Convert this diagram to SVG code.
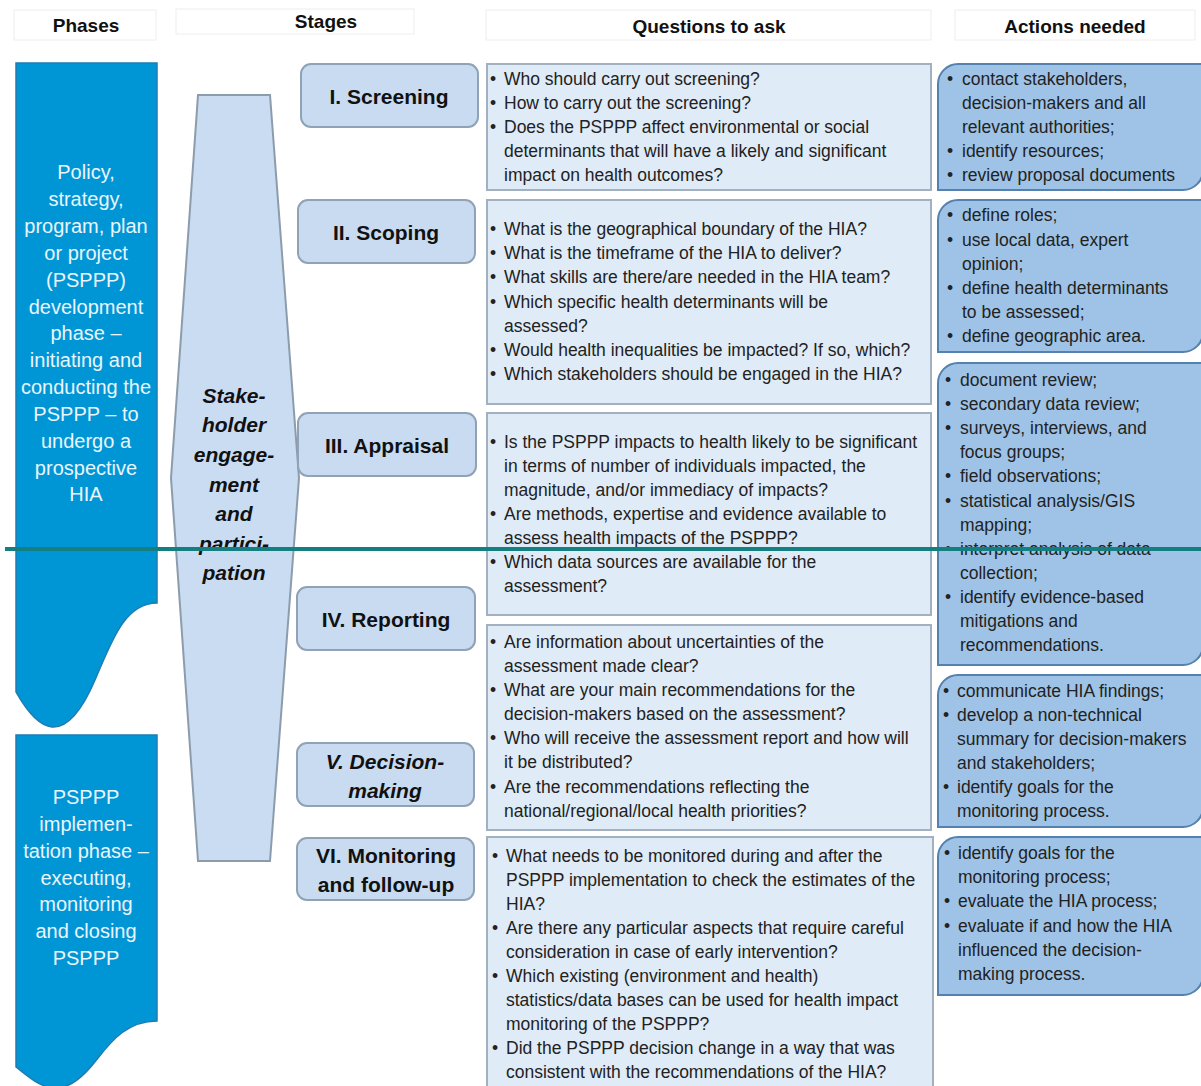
<svg xmlns="http://www.w3.org/2000/svg" width="1201" height="1086" viewBox="0 0 1201 1086">
<style>
.hdrbox{fill:#ffffff;stroke:#eeeeee;stroke-width:1}
.hdr{font-family:"Liberation Sans",Arial,sans-serif;font-weight:bold;font-size:19px;fill:#111;text-anchor:middle;dominant-baseline:central}
.phase{fill:#0096D6;stroke:#1C7DB3;stroke-width:1.5}
.ptxt{font-family:"Liberation Sans",Arial,sans-serif;font-size:20px;fill:#EAF5FC;text-anchor:middle;dominant-baseline:central}
.hex{fill:#C9DCF1;stroke:#8D9CAD;stroke-width:2}
.htxt{font-family:"Liberation Sans",Arial,sans-serif;font-size:21px;font-weight:bold;font-style:italic;fill:#111;text-anchor:middle;dominant-baseline:central}
.stage{fill:#C8DBF1;stroke:#8FA2B6;stroke-width:2}
.stxt{font-family:"Liberation Sans",Arial,sans-serif;font-size:21px;font-weight:bold;fill:#111;text-anchor:middle;dominant-baseline:central}
.q{fill:#DFEBF7;stroke:#A3B0BF;stroke-width:2}
.a{fill:#9EC3E6;stroke:#5581AE;stroke-width:2}
.t{font-family:"Liberation Sans",Arial,sans-serif;font-size:17.5px;fill:#222;dominant-baseline:central}
</style>

<g id="headers">
<rect class="hdrbox" x="14" y="10" width="142" height="30"/>
<text class="hdr" x="86" y="25">Phases</text>
<rect class="hdrbox" x="176" y="9" width="238" height="25"/>
<text class="hdr" x="326" y="21">Stages</text>
<rect class="hdrbox" x="486" y="10" width="445" height="30"/>
<text class="hdr" x="709" y="26">Questions to ask</text>
<rect class="hdrbox" x="955" y="10" width="240" height="30"/>
<text class="hdr" x="1075" y="26">Actions needed</text>
</g>

<g id="phase1">
<path class="phase" d="M16,63 H157 V603 C125,603 112,640 95,680 C80,715 65,728 52,727 C38,726 25,708 16,692 Z"/>
<text class="ptxt" x="86" y="172">Policy,</text>
<text class="ptxt" x="86" y="199">strategy,</text>
<text class="ptxt" x="86" y="226">program, plan</text>
<text class="ptxt" x="86" y="253">or project</text>
<text class="ptxt" x="86" y="280">(PSPPP)</text>
<text class="ptxt" x="86" y="307">development</text>
<text class="ptxt" x="86" y="333">phase –</text>
<text class="ptxt" x="86" y="360">initiating and</text>
<text class="ptxt" x="86" y="387">conducting the</text>
<text class="ptxt" x="86" y="414">PSPPP – to</text>
<text class="ptxt" x="86" y="441">undergo a</text>
<text class="ptxt" x="86" y="468">prospective</text>
<text class="ptxt" x="86" y="494">HIA</text>
</g>

<g id="phase2">
<path class="phase" d="M16,735 H157 V1021 C128,1021 112,1040 98,1058 C85,1075 70,1090 52,1088 C38,1086 25,1074 16,1067 Z"/>
<text class="ptxt" x="86" y="797">PSPPP</text>
<text class="ptxt" x="86" y="824">implemen-</text>
<text class="ptxt" x="86" y="851">tation phase –</text>
<text class="ptxt" x="86" y="878">executing,</text>
<text class="ptxt" x="86" y="904">monitoring</text>
<text class="ptxt" x="86" y="931">and closing</text>
<text class="ptxt" x="86" y="958">PSPPP</text>
</g>

<g id="stakeholder">
<path class="hex" d="M198,95 H270 L299,478 L270,861 H198 L171,478 Z"/>
<text class="htxt" x="234" y="395">Stake-</text>
<text class="htxt" x="234" y="424">holder</text>
<text class="htxt" x="234" y="454">engage-</text>
<text class="htxt" x="234" y="484">ment</text>
<text class="htxt" x="234" y="513">and</text>
<text class="htxt" x="234" y="543">partici-</text>
<text class="htxt" x="234" y="572">pation</text>
</g>

<g id="stage1"><rect class="stage" x="301" y="64" width="177" height="63" rx="10"/><text class="stxt" x="389" y="96">I. Screening</text></g>
<g id="stage2"><rect class="stage" x="298" y="200" width="177" height="63" rx="10"/><text class="stxt" x="386" y="232">II. Scoping</text></g>
<g id="stage3"><rect class="stage" x="298" y="413" width="178" height="63" rx="10"/><text class="stxt" x="387" y="445">III. Appraisal</text></g>
<g id="stage4"><rect class="stage" x="297" y="587" width="178" height="63" rx="10"/><text class="stxt" x="386" y="619">IV. Reporting</text></g>
<g id="stage5"><rect class="stage" x="297" y="743" width="177" height="63" rx="10"/><text class="stxt" x="385" y="761" font-style="italic">V. Decision-</text><text class="stxt" x="385" y="790" font-style="italic">making</text></g>
<g id="stage6"><rect class="stage" x="297" y="838" width="177" height="62" rx="10"/><text class="stxt" x="386" y="855">VI. Monitoring</text><text class="stxt" x="386" y="884">and follow-up</text></g>

<g id="questions1">
<rect class="q" x="487" y="64" width="444" height="126"/>
<text class="t" x="490" y="79">•</text><text class="t" x="504" y="79">Who should carry out screening?</text>
<text class="t" x="490" y="103">•</text><text class="t" x="504" y="103">How to carry out the screening?</text>
<text class="t" x="490" y="127">•</text><text class="t" x="504" y="127">Does the PSPPP affect environmental or social</text>
<text class="t" x="504" y="151">determinants that will have a likely and significant</text>
<text class="t" x="504" y="175">impact on health outcomes?</text>
</g>
<g id="questions2">
<rect class="q" x="487" y="200" width="444" height="204"/>
<text class="t" x="490" y="229">•</text><text class="t" x="504" y="229">What is the geographical boundary of the HIA?</text>
<text class="t" x="490" y="253">•</text><text class="t" x="504" y="253">What is the timeframe of the HIA to deliver?</text>
<text class="t" x="490" y="277">•</text><text class="t" x="504" y="277">What skills are there/are needed in the HIA team?</text>
<text class="t" x="490" y="302">•</text><text class="t" x="504" y="302">Which specific health determinants will be</text>
<text class="t" x="504" y="326">assessed?</text>
<text class="t" x="490" y="350">•</text><text class="t" x="504" y="350">Would health inequalities be impacted? If so, which?</text>
<text class="t" x="490" y="374">•</text><text class="t" x="504" y="374">Which stakeholders should be engaged in the HIA?</text>
</g>
<g id="questions3">
<rect class="q" x="487" y="413" width="444" height="202"/>
<text class="t" x="490" y="442">•</text><text class="t" x="504" y="442">Is the PSPPP impacts to health likely to be significant</text>
<text class="t" x="504" y="466">in terms of number of individuals impacted, the</text>
<text class="t" x="504" y="490">magnitude, and/or immediacy of impacts?</text>
<text class="t" x="490" y="514">•</text><text class="t" x="504" y="514">Are methods, expertise and evidence available to</text>
<text class="t" x="504" y="538">assess health impacts of the PSPPP?</text>
<text class="t" x="490" y="562">•</text><text class="t" x="504" y="562">Which data sources are available for the</text>
<text class="t" x="504" y="586">assessment?</text>
</g>
<g id="questions4">
<rect class="q" x="487" y="625" width="444" height="205"/>
<text class="t" x="490" y="642">•</text><text class="t" x="504" y="642">Are information about uncertainties of the</text>
<text class="t" x="504" y="666">assessment made clear?</text>
<text class="t" x="490" y="690">•</text><text class="t" x="504" y="690">What are your main recommendations for the</text>
<text class="t" x="504" y="714">decision-makers based on the assessment?</text>
<text class="t" x="490" y="738">•</text><text class="t" x="504" y="738">Who will receive the assessment report and how will</text>
<text class="t" x="504" y="762">it be distributed?</text>
<text class="t" x="490" y="787">•</text><text class="t" x="504" y="787">Are the recommendations reflecting the</text>
<text class="t" x="504" y="811">national/regional/local health priorities?</text>
</g>
<g id="questions5">
<rect class="q" x="487" y="837" width="446" height="260"/>
<text class="t" x="492" y="856">•</text><text class="t" x="506" y="856">What needs to be monitored during and after the</text>
<text class="t" x="506" y="880">PSPPP implementation to check the estimates of the</text>
<text class="t" x="506" y="904">HIA?</text>
<text class="t" x="492" y="928">•</text><text class="t" x="506" y="928">Are there any particular aspects that require careful</text>
<text class="t" x="506" y="952">consideration in case of early intervention?</text>
<text class="t" x="492" y="976">•</text><text class="t" x="506" y="976">Which existing (environment and health)</text>
<text class="t" x="506" y="1000">statistics/data bases can be used for health impact</text>
<text class="t" x="506" y="1024">monitoring of the PSPPP?</text>
<text class="t" x="492" y="1048">•</text><text class="t" x="506" y="1048">Did the PSPPP decision change in a way that was</text>
<text class="t" x="506" y="1072">consistent with the recommendations of the HIA?</text>
</g>

<g id="actions1">
<path class="a" d="M938,84 A20,20 0 0 1 958,64 H1203 V170 A20,20 0 0 1 1183,190 H938 Z"/>
<text class="t" x="947" y="79">•</text><text class="t" x="962" y="79">contact stakeholders,</text>
<text class="t" x="962" y="103">decision-makers and all</text>
<text class="t" x="962" y="127">relevant authorities;</text>
<text class="t" x="947" y="151">•</text><text class="t" x="962" y="151">identify resources;</text>
<text class="t" x="947" y="175">•</text><text class="t" x="962" y="175">review proposal documents</text>
</g>
<g id="actions2">
<path class="a" d="M938,220 A20,20 0 0 1 958,200 H1203 V332 A20,20 0 0 1 1183,352 H938 Z"/>
<text class="t" x="947" y="215">•</text><text class="t" x="962" y="215">define roles;</text>
<text class="t" x="947" y="240">•</text><text class="t" x="962" y="240">use local data, expert</text>
<text class="t" x="962" y="264">opinion;</text>
<text class="t" x="947" y="288">•</text><text class="t" x="962" y="288">define health determinants</text>
<text class="t" x="962" y="312">to be assessed;</text>
<text class="t" x="947" y="336">•</text><text class="t" x="962" y="336">define geographic area.</text>
</g>
<g id="actions3">
<path class="a" d="M938,383 A20,20 0 0 1 958,363 H1203 V645 A20,20 0 0 1 1183,665 H938 Z"/>
<text class="t" x="945" y="380">•</text><text class="t" x="960" y="380">document review;</text>
<text class="t" x="945" y="404">•</text><text class="t" x="960" y="404">secondary data review;</text>
<text class="t" x="945" y="428">•</text><text class="t" x="960" y="428">surveys, interviews, and</text>
<text class="t" x="960" y="452">focus groups;</text>
<text class="t" x="945" y="476">•</text><text class="t" x="960" y="476">field observations;</text>
<text class="t" x="945" y="501">•</text><text class="t" x="960" y="501">statistical analysis/GIS</text>
<text class="t" x="960" y="525">mapping;</text>
<text class="t" x="945" y="549">•</text><text class="t" x="960" y="549">interpret analysis of data</text>
<text class="t" x="960" y="573">collection;</text>
<text class="t" x="945" y="597">•</text><text class="t" x="960" y="597">identify evidence-based</text>
<text class="t" x="960" y="621">mitigations and</text>
<text class="t" x="960" y="645">recommendations.</text>
</g>
<g id="actions4">
<path class="a" d="M938,695 A20,20 0 0 1 958,675 H1203 V807 A20,20 0 0 1 1183,827 H938 Z"/>
<text class="t" x="943" y="691">•</text><text class="t" x="957" y="691">communicate HIA findings;</text>
<text class="t" x="943" y="715">•</text><text class="t" x="957" y="715">develop a non-technical</text>
<text class="t" x="957" y="739">summary for decision-makers</text>
<text class="t" x="957" y="763">and stakeholders;</text>
<text class="t" x="943" y="787">•</text><text class="t" x="957" y="787">identify goals for the</text>
<text class="t" x="957" y="811">monitoring process.</text>
</g>
<g id="actions5">
<path class="a" d="M938,857 A20,20 0 0 1 958,837 H1203 V975 A20,20 0 0 1 1183,995 H938 Z"/>
<text class="t" x="944" y="853">•</text><text class="t" x="958" y="853">identify goals for the</text>
<text class="t" x="958" y="877">monitoring process;</text>
<text class="t" x="944" y="901">•</text><text class="t" x="958" y="901">evaluate the HIA process;</text>
<text class="t" x="944" y="926">•</text><text class="t" x="958" y="926">evaluate if and how the HIA</text>
<text class="t" x="958" y="950">influenced the decision-</text>
<text class="t" x="958" y="974">making process.</text>
</g>

<g id="connectors">
<line x1="5" y1="549" x2="1201" y2="549" stroke="#137F80" stroke-width="4"/>
</g>
</svg>
